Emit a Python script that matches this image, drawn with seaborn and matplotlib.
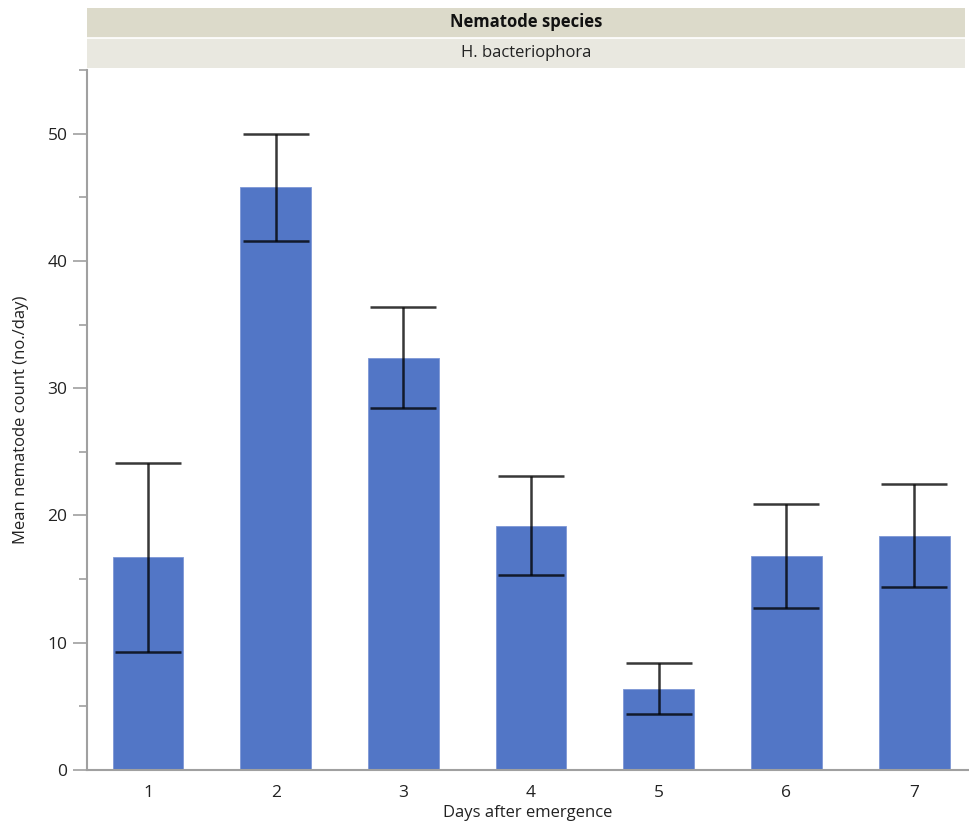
import matplotlib
matplotlib.use("Agg")
import matplotlib.pyplot as plt
from matplotlib.patches import Rectangle
from matplotlib.ticker import MultipleLocator
import seaborn as sns
import pandas as pd

# Mean daily nematode counts and error bar half-widths
days = ["1", "2", "3", "4", "5", "6", "7"]
means = [16.7, 45.8, 32.4, 19.2, 6.4, 16.8, 18.4]
errors = [7.45, 4.2, 3.95, 3.9, 2.0, 4.1, 4.05]

group_title = "Nematode species"
species = "H. bacteriophora"

sns.set_theme(style="white")
plt.rcParams["font.family"] = ["Open Sans", "DejaVu Sans"]

W, H = 969, 827
fig = plt.figure(figsize=(W / 100, H / 100), dpi=100)
ax = fig.add_axes([87 / W, 57 / H, 882 / W, 700 / H])

df = pd.DataFrame({"day": days, "mean": means})
sns.barplot(data=df, x="day", y="mean", color="#5276c6", saturation=1,
            width=0.555, errorbar=None, ax=ax, edgecolor="#7d97d6", linewidth=0.6)
ax.errorbar(range(len(days)), means, yerr=errors, fmt="none", ecolor=(0, 0, 0, 0.78),
            elinewidth=1.8, capsize=23.5, capthick=1.8, zorder=3)

ax.set_xlim(-0.478, 6.43)
ax.set_ylim(0, 55)
ax.yaxis.set_major_locator(MultipleLocator(10))
ax.yaxis.set_minor_locator(MultipleLocator(5))
ax.tick_params(axis="y", which="major", left=True, length=10, width=1.2,
               color="#a0a0a0", labelsize=12.5, labelcolor="#222222", pad=4)
ax.tick_params(axis="y", which="minor", left=True, length=6, width=1.2, color="#a0a0a0")
ax.tick_params(axis="x", bottom=False, labelsize=12.5, labelcolor="#222222", pad=5)

for side in ("top", "right"):
    ax.spines[side].set_visible(False)
for side in ("left", "bottom"):
    ax.spines[side].set_color("#a0a0a0")
    ax.spines[side].set_linewidth(1.5)

ax.set_xlabel("Days after emergence", fontsize=12, color="#222222", labelpad=3)
ax.set_ylabel("Mean nematode count (no./day)", fontsize=12, color="#222222", labelpad=13)

# Header strips above the panel
x0, x1 = 87 / W, 965 / W
fig.patches.append(Rectangle((x0, 1 - 38 / H), x1 - x0, 30 / H, transform=fig.transFigure,
                             facecolor="#dcdaca", edgecolor="none"))
fig.patches.append(Rectangle((x0, 1 - 68 / H), x1 - x0, 30 / H, transform=fig.transFigure,
                             facecolor="#e9e8e0", edgecolor="none"))
fig.lines.append(plt.Line2D([x0, x1], [1 - 38 / H, 1 - 38 / H], transform=fig.transFigure,
                            color="#ffffff", linewidth=1.2))
fig.text((x0 + x1) / 2, 1 - 22 / H, group_title, ha="center", va="center",
         fontsize=12, fontweight="bold", color="#111111")
fig.text((x0 + x1) / 2, 1 - 53 / H, species, ha="center", va="center",
         fontsize=12, color="#222222")

fig.savefig("out.png", dpi=100, facecolor="white")
